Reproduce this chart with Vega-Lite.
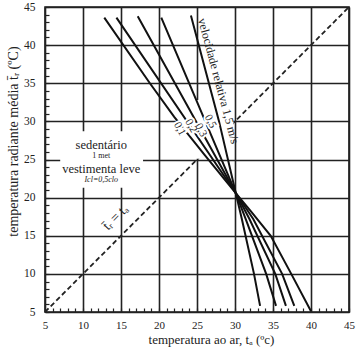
{
  "$schema": "https://vega.github.io/schema/vega-lite/v6.json",
  "width": 304,
  "height": 305,
  "autosize": {"type": "none"},
  "padding": {"left": 45, "top": 7, "right": 12, "bottom": 47},
  "background": "white",
  "config": {
    "view": {"stroke": "#1a1a1a", "strokeWidth": 1.6},
    "font": "Liberation Serif"
  },
  "encoding": {
    "x": {
      "field": "ta", "type": "quantitative",
      "scale": {"domain": [5, 45], "nice": false, "zero": false},
      "axis": {
        "values": [5,6,7,8,9,10,11,12,13,14,15,16,17,18,19,20,21,22,23,24,25,26,27,28,29,30,31,32,33,34,35,36,37,38,39,40,41,42,43,44,45],
        "labelExpr": "datum.value % 5 === 0 ? datum.label : ''",
        "grid": true, "gridColor": "#222", "gridWidth": 1.6,
        "gridOpacity": {"condition": {"test": "datum.value % 5 === 0", "value": 1}, "value": 0},
        "domain": false, "tickSize": -4, "tickColor": "#222", "tickWidth": 1.2,
        "labelFont": "Liberation Serif", "labelFontSize": 11, "labelColor": "#222",
        "labelPadding": 11, "labelOverlap": false, "labelFlush": false,
        "title": "temperatura ao ar, tₐ (ºc)", "titleFont": "Liberation Serif", "titleFontSize": 13,
        "titleFontWeight": "normal", "titleColor": "#222",
        "titleX": 166, "titleY": 27, "titleBaseline": "middle", "titleAlign": "center"
      }
    },
    "y": {
      "field": "tr", "type": "quantitative",
      "scale": {"domain": [5, 45], "nice": false, "zero": false},
      "axis": {
        "values": [5,6,7,8,9,10,11,12,13,14,15,16,17,18,19,20,21,22,23,24,25,26,27,28,29,30,31,32,33,34,35,36,37,38,39,40,41,42,43,44,45],
        "labelExpr": "datum.value % 5 === 0 ? datum.label : ''",
        "grid": true, "gridColor": "#222", "gridWidth": 1.6,
        "gridOpacity": {"condition": {"test": "datum.value % 5 === 0", "value": 1}, "value": 0},
        "domain": false, "tickSize": -4, "tickColor": "#222", "tickWidth": 1.2,
        "labelFont": "Liberation Serif", "labelFontSize": 11.5, "labelColor": "#222",
        "labelPadding": 14, "labelOverlap": false, "labelFlush": false,
        "title": "temperatura radiante média t̄ᵣ (ºC)", "titleFont": "Liberation Serif", "titleFontSize": 14,
        "titleFontWeight": "normal", "titleColor": "#222",
        "titleX": -32, "titleY": 134, "titleBaseline": "middle", "titleAlign": "center", "titleAngle": -90
      }
    }
  },
  "layer": [
    {
      "data": {"values": [{"ta": 5, "tr": 5}, {"ta": 45, "tr": 45}]},
      "mark": {"type": "line", "color": "#222", "strokeWidth": 1.8, "strokeDash": [5, 3]}
    },
    {
      "data": {"values": [{"ta": 7.0, "ta2": 17.9, "tr": 21.3, "tr2": 28.7}, {"ta": 22.4, "ta2": 29.8, "tr": 25.1, "tr2": 32.8}]},
      "mark": {"type": "rect", "fill": "white", "stroke": null},
      "encoding": {"x2": {"field": "ta2"}, "y2": {"field": "tr2"}}
    },
    {
      "data": {"values": [
        {"v": "0,1", "i": 0, "ta": 12.8, "tr": 43.6},
        {"v": "0,1", "i": 1, "ta": 18.8, "tr": 35.0},
        {"v": "0,1", "i": 2, "ta": 22.0, "tr": 30.6},
        {"v": "0,1", "i": 3, "ta": 26.0, "tr": 25.6},
        {"v": "0,1", "i": 4, "ta": 30.1, "tr": 20.6},
        {"v": "0,1", "i": 5, "ta": 32.1, "tr": 18.2},
        {"v": "0,1", "i": 6, "ta": 34.7, "tr": 15.0},
        {"v": "0,1", "i": 7, "ta": 37.4, "tr": 10.0},
        {"v": "0,1", "i": 8, "ta": 40.0, "tr": 5.1},
        {"v": "0,2", "i": 0, "ta": 14.4, "tr": 43.6},
        {"v": "0,2", "i": 1, "ta": 30.1, "tr": 20.6},
        {"v": "0,2", "i": 2, "ta": 32.4, "tr": 17.2},
        {"v": "0,2", "i": 3, "ta": 36.2, "tr": 10.0},
        {"v": "0,2", "i": 4, "ta": 37.8, "tr": 5.8},
        {"v": "0,3", "i": 0, "ta": 17.2, "tr": 43.8},
        {"v": "0,3", "i": 1, "ta": 30.1, "tr": 20.6},
        {"v": "0,3", "i": 2, "ta": 31.9, "tr": 17.2},
        {"v": "0,3", "i": 3, "ta": 35.3, "tr": 10.0},
        {"v": "0,3", "i": 4, "ta": 36.7, "tr": 5.8},
        {"v": "0,5", "i": 0, "ta": 20.3, "tr": 43.6},
        {"v": "0,5", "i": 1, "ta": 30.1, "tr": 20.6},
        {"v": "0,5", "i": 2, "ta": 31.4, "tr": 17.2},
        {"v": "0,5", "i": 3, "ta": 34.1, "tr": 10.0},
        {"v": "0,5", "i": 4, "ta": 35.4, "tr": 5.8},
        {"v": "1,5", "i": 0, "ta": 24.2, "tr": 43.9},
        {"v": "1,5", "i": 1, "ta": 27.9, "tr": 30.0},
        {"v": "1,5", "i": 2, "ta": 30.1, "tr": 20.6},
        {"v": "1,5", "i": 3, "ta": 30.9, "tr": 17.2},
        {"v": "1,5", "i": 4, "ta": 32.5, "tr": 10.0},
        {"v": "1,5", "i": 5, "ta": 33.3, "tr": 5.8}
      ]},
      "mark": {"type": "line", "color": "#111", "strokeWidth": 2},
      "encoding": {"detail": {"field": "v"}, "order": {"field": "i", "type": "quantitative"}}
    },
    {
      "data": {"values": [{"ta": 27.85, "tr": 35.3, "t": "velocidade relativa 1,5 m/s"}]},
      "mark": {"type": "text", "angle": 75, "fontSize": 12, "font": "Liberation Serif", "align": "center", "baseline": "middle", "color": "#222"},
      "encoding": {"text": {"field": "t"}}
    },
    {
      "data": {"values": [
        {"ta": 22.7, "tr": 29.0, "t": "0,1"},
        {"ta": 24.2, "tr": 29.4, "t": "0,2"},
        {"ta": 25.5, "tr": 28.85, "t": "0,3"},
        {"ta": 26.75, "tr": 30.0, "t": "0,5"}
      ]},
      "mark": {"type": "text", "angle": 62, "fontSize": 11, "font": "Liberation Serif", "align": "center", "baseline": "middle", "stroke": "white", "strokeWidth": 4, "fill": "white"},
      "encoding": {"text": {"field": "t"}}
    },
    {
      "data": {"values": [
        {"ta": 22.7, "tr": 29.0, "t": "0,1"},
        {"ta": 24.2, "tr": 29.4, "t": "0,2"},
        {"ta": 25.5, "tr": 28.85, "t": "0,3"},
        {"ta": 26.75, "tr": 30.0, "t": "0,5"}
      ]},
      "mark": {"type": "text", "angle": 62, "fontSize": 11, "font": "Liberation Serif", "align": "center", "baseline": "middle", "color": "#222"},
      "encoding": {"text": {"field": "t"}}
    },
    {
      "data": {"values": [{"ta": 14.3, "tr": 17.4, "t": "t̄ᵣ = tₐ"}]},
      "mark": {"type": "text", "angle": -45, "fontSize": 14, "font": "Liberation Serif", "align": "center", "baseline": "middle", "color": "#222"},
      "encoding": {"text": {"field": "t"}}
    },
    {
      "data": {"values": [
        {"ta": 12.4, "tr": 26.9, "t": "sedentário"},
        {"ta": 12.4, "tr": 23.7, "t": "vestimenta leve"}
      ]},
      "mark": {"type": "text", "fontSize": 12.5, "font": "Liberation Serif", "align": "center", "baseline": "middle", "color": "#222"},
      "encoding": {"text": {"field": "t"}}
    },
    {
      "data": {"values": [{"ta": 12.4, "tr": 25.4, "t": "1 met"}]},
      "mark": {"type": "text", "fontSize": 8, "font": "Liberation Serif", "align": "center", "baseline": "middle", "color": "#222"},
      "encoding": {"text": {"field": "t"}}
    },
    {
      "data": {"values": [{"ta": 12.4, "tr": 22.3, "t": "Icl=0,5clo"}]},
      "mark": {"type": "text", "fontSize": 8, "fontStyle": "italic", "font": "Liberation Serif", "align": "center", "baseline": "middle", "color": "#222"},
      "encoding": {"text": {"field": "t"}}
    }
  ]
}
